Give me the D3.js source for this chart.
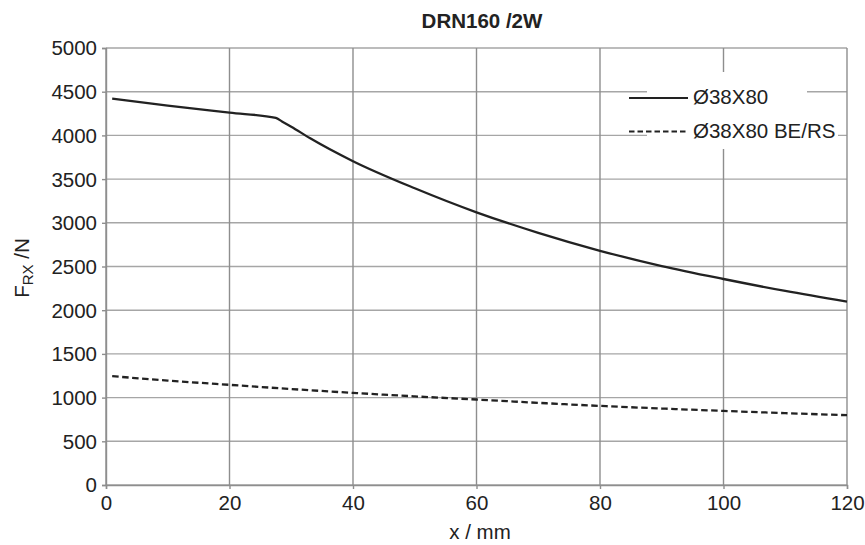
<!DOCTYPE html>
<html>
<head>
<meta charset="utf-8">
<script src="https://cdn.jsdelivr.net/npm/d3@7"></script>
<style>
  body { margin: 0; background: #fff; }
  svg { display: block; }
  text { font-family: "Liberation Sans", Arial, Helvetica, sans-serif; fill: #222; }
</style>
</head>
<body>
<svg id="chart" width="865" height="545"></svg>
<script>
// Radial load F_RX over load position x, DRN160 /2W
const chartTitle = "DRN160 /2W";
const xLabel = "x / mm";
const xTicks = [0, 20, 40, 60, 80, 100, 120];
const yTicks = [0, 500, 1000, 1500, 2000, 2500, 3000, 3500, 4000, 4500, 5000];
const seriesNames = ["Ø38X80", "Ø38X80 BE/RS"];

// Ø38X80 (solid)
const xShaft = [1, 10, 20, 27.5, 28.5, 30, 33, 40, 50, 60, 70, 80, 90, 100, 110, 120];
const fShaft = [4420, 4340, 4260, 4200, 4160, 4100, 3970, 3705, 3395, 3120, 2885, 2680, 2505, 2357, 2220, 2097];

// Ø38X80 BE/RS (dashed)
const xBrake = [1, 10, 20, 30, 40, 50, 60, 70, 80, 90, 100, 110, 120];
const fBrake = [1245, 1195, 1146, 1098, 1054, 1014, 978, 940, 905, 875, 848, 822, 799];

const svg = d3.select("#chart");
const plotL = 106, plotR = 847, plotT = 48, plotB = 485;

const x = d3.scaleLinear().domain([0, 120]).range([plotL, plotR]);
const y = d3.scaleLinear().domain([0, 5000]).range([plotB, plotT]);

// grid
const grid = svg.append("g");
grid.selectAll("line.h").data(yTicks).join("line")
  .attr("x1", plotL).attr("x2", plotR)
  .attr("y1", d => y(d)).attr("y2", d => y(d))
  .attr("stroke", "#a6a6a6").attr("stroke-width", 1.4);
grid.selectAll("line.v").data(xTicks).join("line")
  .attr("x1", d => x(d)).attr("x2", d => x(d))
  .attr("y1", plotT).attr("y2", plotB)
  .attr("stroke", "#8e8e8e").attr("stroke-width", 1.4);

// axes
const xAxis = d3.axisBottom(x).tickValues(xTicks).tickFormat(d3.format("d")).tickSize(4).tickPadding(6);
const yAxis = d3.axisLeft(y).tickValues(yTicks).tickFormat(d3.format("d")).tickSize(4).tickPadding(5);

const gx = svg.append("g").attr("transform", `translate(0,${plotB})`).call(xAxis);
const gy = svg.append("g").attr("transform", `translate(${plotL},0)`).call(yAxis);
[gx, gy].forEach(g => {
  g.select(".domain").attr("stroke", "#8e8e8e").attr("stroke-width", 1.4);
  g.selectAll(".tick line").attr("stroke", "#8e8e8e").attr("stroke-width", 1.4);
  g.selectAll(".tick text").attr("font-size", 20.5).attr("fill", "#222")
    .style("font-family", '"Liberation Sans", Arial, sans-serif');
});
gy.selectAll(".tick text").attr("dy", "0.34em");
gx.selectAll(".tick text").attr("dy", "0.72em");

// legend backdrop
svg.append("rect").attr("x", 647).attr("y", 72).attr("width", 160).attr("height", 77).attr("fill", "#fff");
svg.append("rect").attr("x", 647).attr("y", 113).attr("width", 191).attr("height", 36).attr("fill", "#fff");

// curves
const line = d3.line().x(d => x(d[0])).y(d => y(d[1])).curve(d3.curveMonotoneX);
svg.append("path")
  .attr("d", line(d3.zip(xShaft, fShaft)))
  .attr("fill", "none").attr("stroke", "#222").attr("stroke-width", 2.3);
svg.append("path")
  .attr("d", line(d3.zip(xBrake, fBrake)))
  .attr("fill", "none").attr("stroke", "#222").attr("stroke-width", 2.3)
  .attr("stroke-dasharray", "6.5,3.5");

// legend
const legend = svg.append("g");
const legendRows = [
  { name: seriesNames[0], y: 98, dash: null },
  { name: seriesNames[1], y: 131.5, dash: "5.5,3" }
];
legendRows.forEach(r => {
  legend.append("line")
    .attr("x1", 629).attr("x2", 688).attr("y1", r.y).attr("y2", r.y)
    .attr("stroke", "#222").attr("stroke-width", 2.2)
    .attr("stroke-dasharray", r.dash);
  legend.append("text")
    .attr("x", 693).attr("y", r.y).attr("dy", "0.3em")
    .attr("font-size", 20.5).text(r.name);
});

// titles
svg.append("text")
  .attr("x", 482).attr("y", 28)
  .attr("text-anchor", "middle")
  .attr("font-size", 20.5).attr("font-weight", "bold")
  .text(chartTitle);

svg.append("text")
  .attr("x", 480).attr("y", 539)
  .attr("text-anchor", "middle")
  .attr("font-size", 20.5)
  .text(xLabel);

const yl = svg.append("text")
  .attr("transform", "translate(29,268) rotate(-90)")
  .attr("text-anchor", "middle")
  .attr("font-size", 20.5);
yl.append("tspan").text("F");
yl.append("tspan").attr("font-size", 15).attr("dy", 4).text("RX");
yl.append("tspan").attr("dy", -4).text(" /N");
</script>
</body>
</html>
